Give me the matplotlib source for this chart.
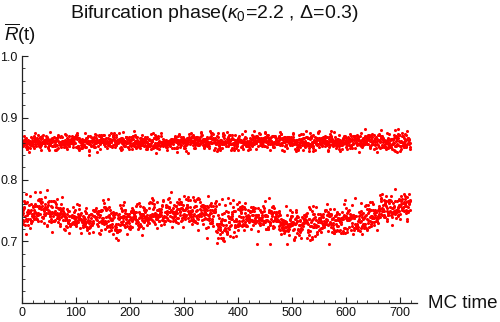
import numpy as np
import matplotlib
matplotlib.use('Agg')
import matplotlib.pyplot as plt
from matplotlib.ticker import MultipleLocator

plt.rcParams['font.family'] = ['Liberation Sans', 'DejaVu Sans']
plt.rcParams['mathtext.fontset'] = 'custom'
plt.rcParams['mathtext.rm'] = 'Liberation Sans'
plt.rcParams['mathtext.it'] = 'Liberation Sans:italic'

# band centres, one per 20 MC-time units (0..720)
seg_start = list(range(0, 720, 20))
upper_center = [0.862] * 36
upper_spread = [0.0068] * 36
lower_center = [0.745, 0.748, 0.747, 0.745, 0.738, 0.737, 0.738, 0.741, 0.733,
                0.737, 0.736, 0.738, 0.745, 0.748, 0.750, 0.749, 0.745, 0.742,
                0.733, 0.735, 0.738, 0.740, 0.737, 0.738, 0.727, 0.728, 0.730,
                0.731, 0.732, 0.733, 0.732, 0.735, 0.745, 0.752, 0.756, 0.758]
lower_spread = [0.012, 0.012, 0.012, 0.012, 0.011, 0.011, 0.011, 0.012, 0.013,
                0.012, 0.012, 0.012, 0.012, 0.012, 0.011, 0.012, 0.012, 0.013,
                0.019, 0.014, 0.012, 0.012, 0.012, 0.012, 0.012, 0.012, 0.012,
                0.012, 0.012, 0.013, 0.012, 0.012, 0.012, 0.012, 0.011, 0.011]
points_per_unit = 2

# scatter inside each band (fixed seed)
rng = np.random.default_rng(7)
t = np.arange(0, 720, 1.0 / points_per_unit)
idx = (t // 20).astype(int)
r_up = np.array(upper_center)[idx] + rng.normal(0, 1, t.size) * np.array(upper_spread)[idx]
r_lo = np.array(lower_center)[idx] + rng.normal(0, 1, t.size) * np.array(lower_spread)[idx]

fig = plt.figure(figsize=(5, 3.22), dpi=100)
ax = fig.add_axes([0.044, 0.058, 0.79, 0.768])
ax.scatter(t, r_up, s=5, color='#ff0000', linewidths=0)
ax.scatter(t, r_lo, s=5, color='#ff0000', linewidths=0)

ax.set_xlim(0, 732)
ax.set_ylim(0.6, 1.0)
for s in ['top', 'right']:
    ax.spines[s].set_visible(False)
for s in ['left', 'bottom']:
    ax.spines[s].set_color('#222222')
    ax.spines[s].set_linewidth(0.9)

ax.xaxis.set_major_locator(MultipleLocator(100))
ax.xaxis.set_minor_locator(MultipleLocator(20))
ax.set_yticks([0.7, 0.8, 0.9, 1.0])
ax.set_yticklabels(['0.7', '0.8', '0.9', '1.0'])
ax.yaxis.set_minor_locator(MultipleLocator(0.02))
ax.tick_params(which='major', direction='in', length=4, width=0.8, colors='#222222',
               labelsize=9, pad=3, labelcolor='#111111')
ax.tick_params(which='minor', direction='in', length=2.5, width=0.6, colors='#222222')

fig.text(0.428, 0.958, r'Bifurcation phase($\kappa_0$=2.2 , Δ=0.3)',
         ha='center', va='center', fontsize=14, color='#111111')
fig.text(0.008, 0.894, r'$\overline{R}$(t)', ha='left', va='center',
         fontsize=13.5, color='#111111')
fig.text(0.856, 0.059, 'MC time', ha='left', va='center', fontsize=13.5,
         color='#111111')

fig.savefig('out.png', dpi=100)
